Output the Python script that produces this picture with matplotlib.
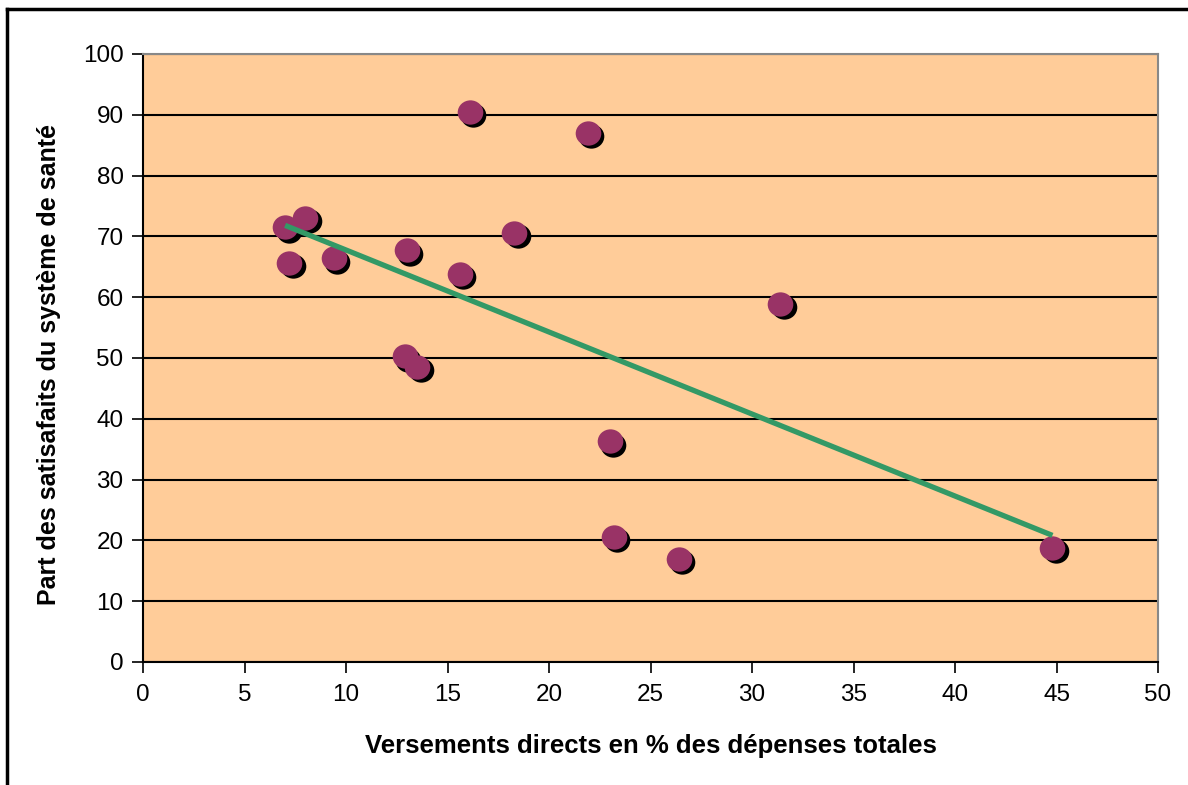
import matplotlib.pyplot as plt
from matplotlib.path import Path
import numpy as np

plt.rcParams['font.family'] = ['Liberation Sans', 'DejaVu Sans']

versements = [7.0, 8.0, 7.2, 9.4, 13.0, 15.6, 16.1, 18.3, 21.9, 12.9, 13.5, 31.4, 23.0, 23.2, 26.4, 44.8]
satisfaits = [71.5, 73.1, 65.6, 66.4, 67.7, 63.8, 90.5, 70.6, 87.0, 50.3, 48.5, 58.9, 36.3, 20.6, 17.0, 18.8]

x = np.array(versements)
y = np.array(satisfaits)
pente, origine = np.polyfit(x, y, 1)
xt = np.array([x.min(), x.max()])

# marqueur à peine elliptique, comme dans l'original
cercle = Path.unit_circle()
ellipse = Path(cercle.vertices * [1.0, 0.95], cercle.codes)

fig = plt.figure(figsize=(11.88, 7.85), dpi=100)
ax = fig.add_axes([143 / 1188, 1 - 662 / 785, (1158 - 143) / 1188, (662 - 54) / 785])
ax.set_facecolor('#FFCC99')

# ombre des points, puis les points
ax.scatter(x + 0.17, y - 0.55, s=340, marker=ellipse, color='black', zorder=3, linewidths=0)
ax.scatter(x, y, s=340, marker=ellipse, color='#993366', zorder=4, linewidths=0)
ax.plot(xt, origine + pente * xt, color='#339966', lw=3.8, zorder=5, solid_capstyle='butt')

ax.set_xlim(0, 50)
ax.set_ylim(0, 100)
ax.set_xticks(range(0, 51, 5))
ax.set_yticks(range(0, 101, 10))
ax.yaxis.grid(True, color='black', lw=1.5)
ax.set_axisbelow(True)
ax.tick_params(labelsize=17.5, length=8, width=1.2, color='black', direction='out')
ax.tick_params(axis='x', pad=8)
ax.tick_params(axis='y', pad=6)
for s in ['left', 'bottom']:
    ax.spines[s].set_color('black')
    ax.spines[s].set_linewidth(1.5)
for s in ['top', 'right']:
    ax.spines[s].set_color('#888888')
    ax.spines[s].set_linewidth(1.5)

ax.set_xlabel('Versements directs en % des dépenses totales', fontsize=18.5, fontweight='bold', labelpad=20)
ax.set_ylabel('Part des satisafaits du système de santé', fontsize=18, fontweight='bold')
ax.yaxis.set_label_coords(-0.081, 0.49)

# cadre extérieur
fig.add_artist(plt.Line2D([7 / 1188, 1], [1 - 9 / 785] * 2, color='black', lw=2.5))
fig.add_artist(plt.Line2D([7 / 1188] * 2, [0, 1 - 9 / 785], color='black', lw=2.5))

fig.savefig('out.png', dpi=100)
